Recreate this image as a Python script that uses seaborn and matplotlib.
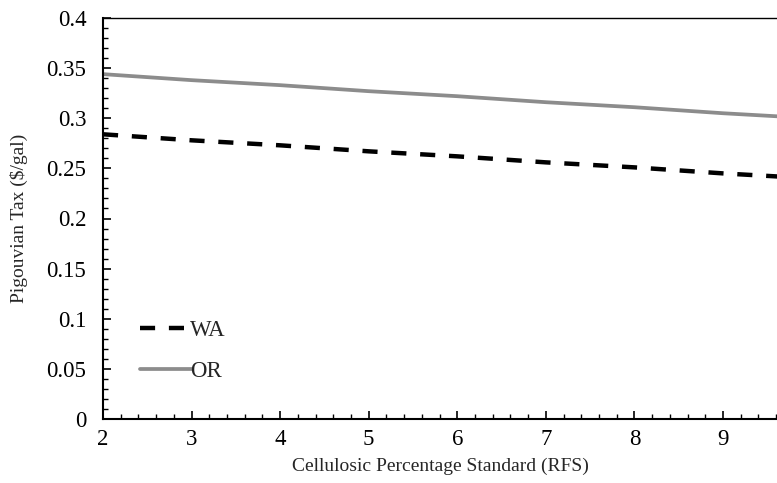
import matplotlib
matplotlib.use("Agg")
import matplotlib.pyplot as plt
import seaborn as sns
import pandas as pd
from matplotlib.ticker import MultipleLocator

rfs = [2, 3, 4, 5, 6, 7, 8, 9, 10]
wa_tax = [0.284, 0.278, 0.273, 0.267, 0.262, 0.256, 0.251, 0.245, 0.240]
or_tax = [0.344, 0.338, 0.333, 0.327, 0.322, 0.316, 0.311, 0.305, 0.300]

df = pd.DataFrame({
    "rfs": rfs * 2,
    "tax": wa_tax + or_tax,
    "state": ["WA"] * len(rfs) + ["OR"] * len(rfs),
})

sns.set_theme(style="ticks")
plt.rcParams["font.family"] = ["Liberation Serif", "DejaVu Serif"]

fig = plt.figure(figsize=(7.77, 4.83), dpi=100)
ax = fig.add_axes([103 / 777, 64 / 483, 1 - 103 / 777, (419 - 18) / 483])

sns.lineplot(data=df[df.state == "WA"], x="rfs", y="tax", ax=ax,
             color="black", linewidth=3.2, label="WA")
sns.lineplot(data=df[df.state == "OR"], x="rfs", y="tax", ax=ax,
             color="#8c8c8c", linewidth=2.7, label="OR")
ax.lines[0].set_dashes([3.4, 3.1])

ax.set_xlim(2, 9.61)
ax.set_ylim(0, 0.4)
ax.xaxis.set_major_locator(MultipleLocator(1))
ax.xaxis.set_minor_locator(MultipleLocator(0.2))
ax.yaxis.set_major_locator(MultipleLocator(0.05))
ax.yaxis.set_minor_locator(MultipleLocator(0.01))
ax.set_yticks(ax.get_yticks())
ax.set_yticklabels([f"{v:g}" for v in ax.get_yticks()])
ax.set_ylim(0, 0.4)
ax.tick_params(axis="both", which="major", direction="in", length=6, width=1.2,
               labelsize=16.5, colors="black")
ax.tick_params(axis="y", which="major", pad=12)
ax.tick_params(axis="x", which="major", pad=7)
ax.tick_params(axis="both", which="minor", direction="in", length=3.5, width=1.0,
               colors="black")
ax.tick_params(axis="y", which="both", right=False)
ax.tick_params(axis="x", which="both", top=False)

for s in ["left", "bottom"]:
    ax.spines[s].set_linewidth(1.5)
    ax.spines[s].set_color("black")
ax.spines["top"].set_visible(True)
ax.spines["top"].set_linewidth(1.0)
ax.spines["top"].set_color("black")
ax.spines["right"].set_visible(False)

ax.set_xlabel("Cellulosic Percentage Standard (RFS)", fontsize=14, labelpad=6)
ax.set_ylabel("Pigouvian Tax ($/gal)", fontsize=14, labelpad=13)

leg = ax.legend(loc="lower left", bbox_to_anchor=(0.025, 0.04), frameon=False,
                fontsize=16.5, handlelength=2.25, handletextpad=-0.1, labelspacing=0.9)

fig.savefig("out.png", dpi=100)
